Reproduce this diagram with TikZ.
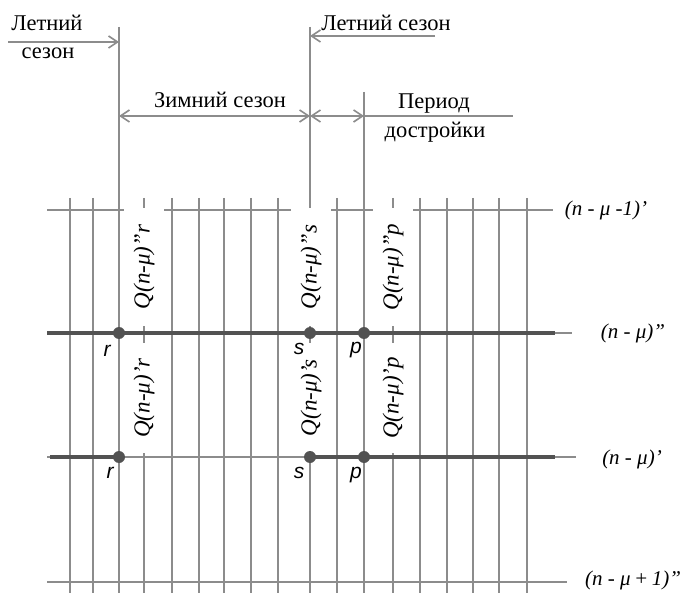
\documentclass[tikz,border=0pt]{standalone}
\usepackage{fontspec}
\setmainfont{Liberation Serif}
\newfontfamily\sansfam{Liberation Sans}
\usetikzlibrary{arrows.meta}

\definecolor{gridgray}{gray}{0.55}
\definecolor{boldgray}{gray}{0.32}

\tikzset{
  gridline/.style={gridgray, line width=1.6pt},
  boldline/.style={boldgray, line width=4.4pt},
  qlabel/.style={fill=white, rotate=90, inner sep=0pt, minimum height=40pt,
    font=\itshape\fontsize{23}{23}\selectfont},
  rowlabel/.style={font=\itshape\fontsize{21}{21}\selectfont},
  ptlabel/.style={font=\sansfam\itshape\fontsize{21}{21}\selectfont},
  ptdot/.style={circle, fill=boldgray, inner sep=0pt, minimum size=12pt},
  txt/.style={font=\fontsize{22.5}{22.5}\selectfont, align=center},
}

\begin{document}
\begin{tikzpicture}[x=1pt, y=-1pt, >={Straight Barb[length=9pt,width=12pt]}]
    \useasboundingbox (0,0) rectangle (682,593);

    % вертикальная сетка
    \foreach \x in {70,93,144,172,199,224,251,278,337,393,420,447,473,499,527}
        \draw[gridline] (\x,198) -- (\x,593);
    \draw[gridline] (119,27) -- (119,593);
    \draw[gridline] (310,27) -- (310,593);
    \draw[gridline] (364,92) -- (364,593);

    % горизонтальные линии
    \draw[gridline] (47,210) -- (553,210);
    \draw[gridline] (47,333) -- (572,333);
    \draw[gridline] (47,457) -- (576,457);
    \draw[gridline] (47,582) -- (567,582);
    \draw[boldline] (47,333) -- (555,333);
    \draw[boldline] (50,457) -- (119,457);
    \draw[boldline] (310,457) -- (555,457);

    % подписи расходов
    \node[qlabel, minimum width=118pt] (qr2) at (144,267) {Q(n-μ)”r};
    \node[qlabel, minimum width=118pt] (qs2) at (311,267) {Q(n-μ)”s};
    \node[qlabel, minimum width=118pt] (qp2) at (393,267) {Q(n-μ)”p};
    \node[qlabel, minimum width=110pt] (qr1) at (144,398) {Q(n-μ)’r};
    \node[qlabel, minimum width=110pt] (qs1) at (311,398) {Q(n-μ)’s};
    \node[qlabel, minimum width=110pt] (qp1) at (393,398) {Q(n-μ)’p};

    % точки r, s, p
    \node[ptdot] (r2) at (119,333) {};
    \node[ptdot] (s2) at (310,333) {};
    \node[ptdot] (p2) at (364,333) {};
    \node[ptdot] (r1) at (119,457) {};
    \node[ptdot] (s1) at (310,457) {};
    \node[ptdot] (p1) at (364,457) {};
    \node[ptlabel] at (107,351) {r};
    \node[ptlabel] at (299,349) {s};
    \node[ptlabel] at (356,350) {p};
    \node[ptlabel] at (110,473) {r};
    \node[ptlabel] at (299,473) {s};
    \node[ptlabel] at (356,475) {p};

    % подписи рядов
    \node[rowlabel] (row1) at (606,210) {(n - μ -1)’};
    \node[rowlabel] (row2) at (633,333) {(n - μ)”};
    \node[rowlabel] (row3) at (632,459) {(n - μ)’};
    \node[rowlabel] (row4) at (633,580) {(n - μ\,+\,1)”};

    % сезоны
    \coordinate (ls) at (8,42);
    \coordinate (rs) at (435,36);
    \draw[gridline, ->] (ls) -- (119,42);
    \node[txt] at (47,23) {Летний};
    \node[txt] at (48,53) {сезон};
    \draw[gridline, ->] (rs) -- (310,36);
    \node[txt] at (386,23) {Летний сезон};
    \draw[gridline, <->] (119,116) -- (310,116);
    \node[txt] at (220,100) {Зимний сезон};
    \draw[gridline, <->] (310,116) -- (364,116);
    \draw[gridline] (364,116) -- (513,116);
    \node[txt] at (434,104) {Период};
    \node[txt] at (435,132) {достройки};
\end{tikzpicture}
\end{document}
